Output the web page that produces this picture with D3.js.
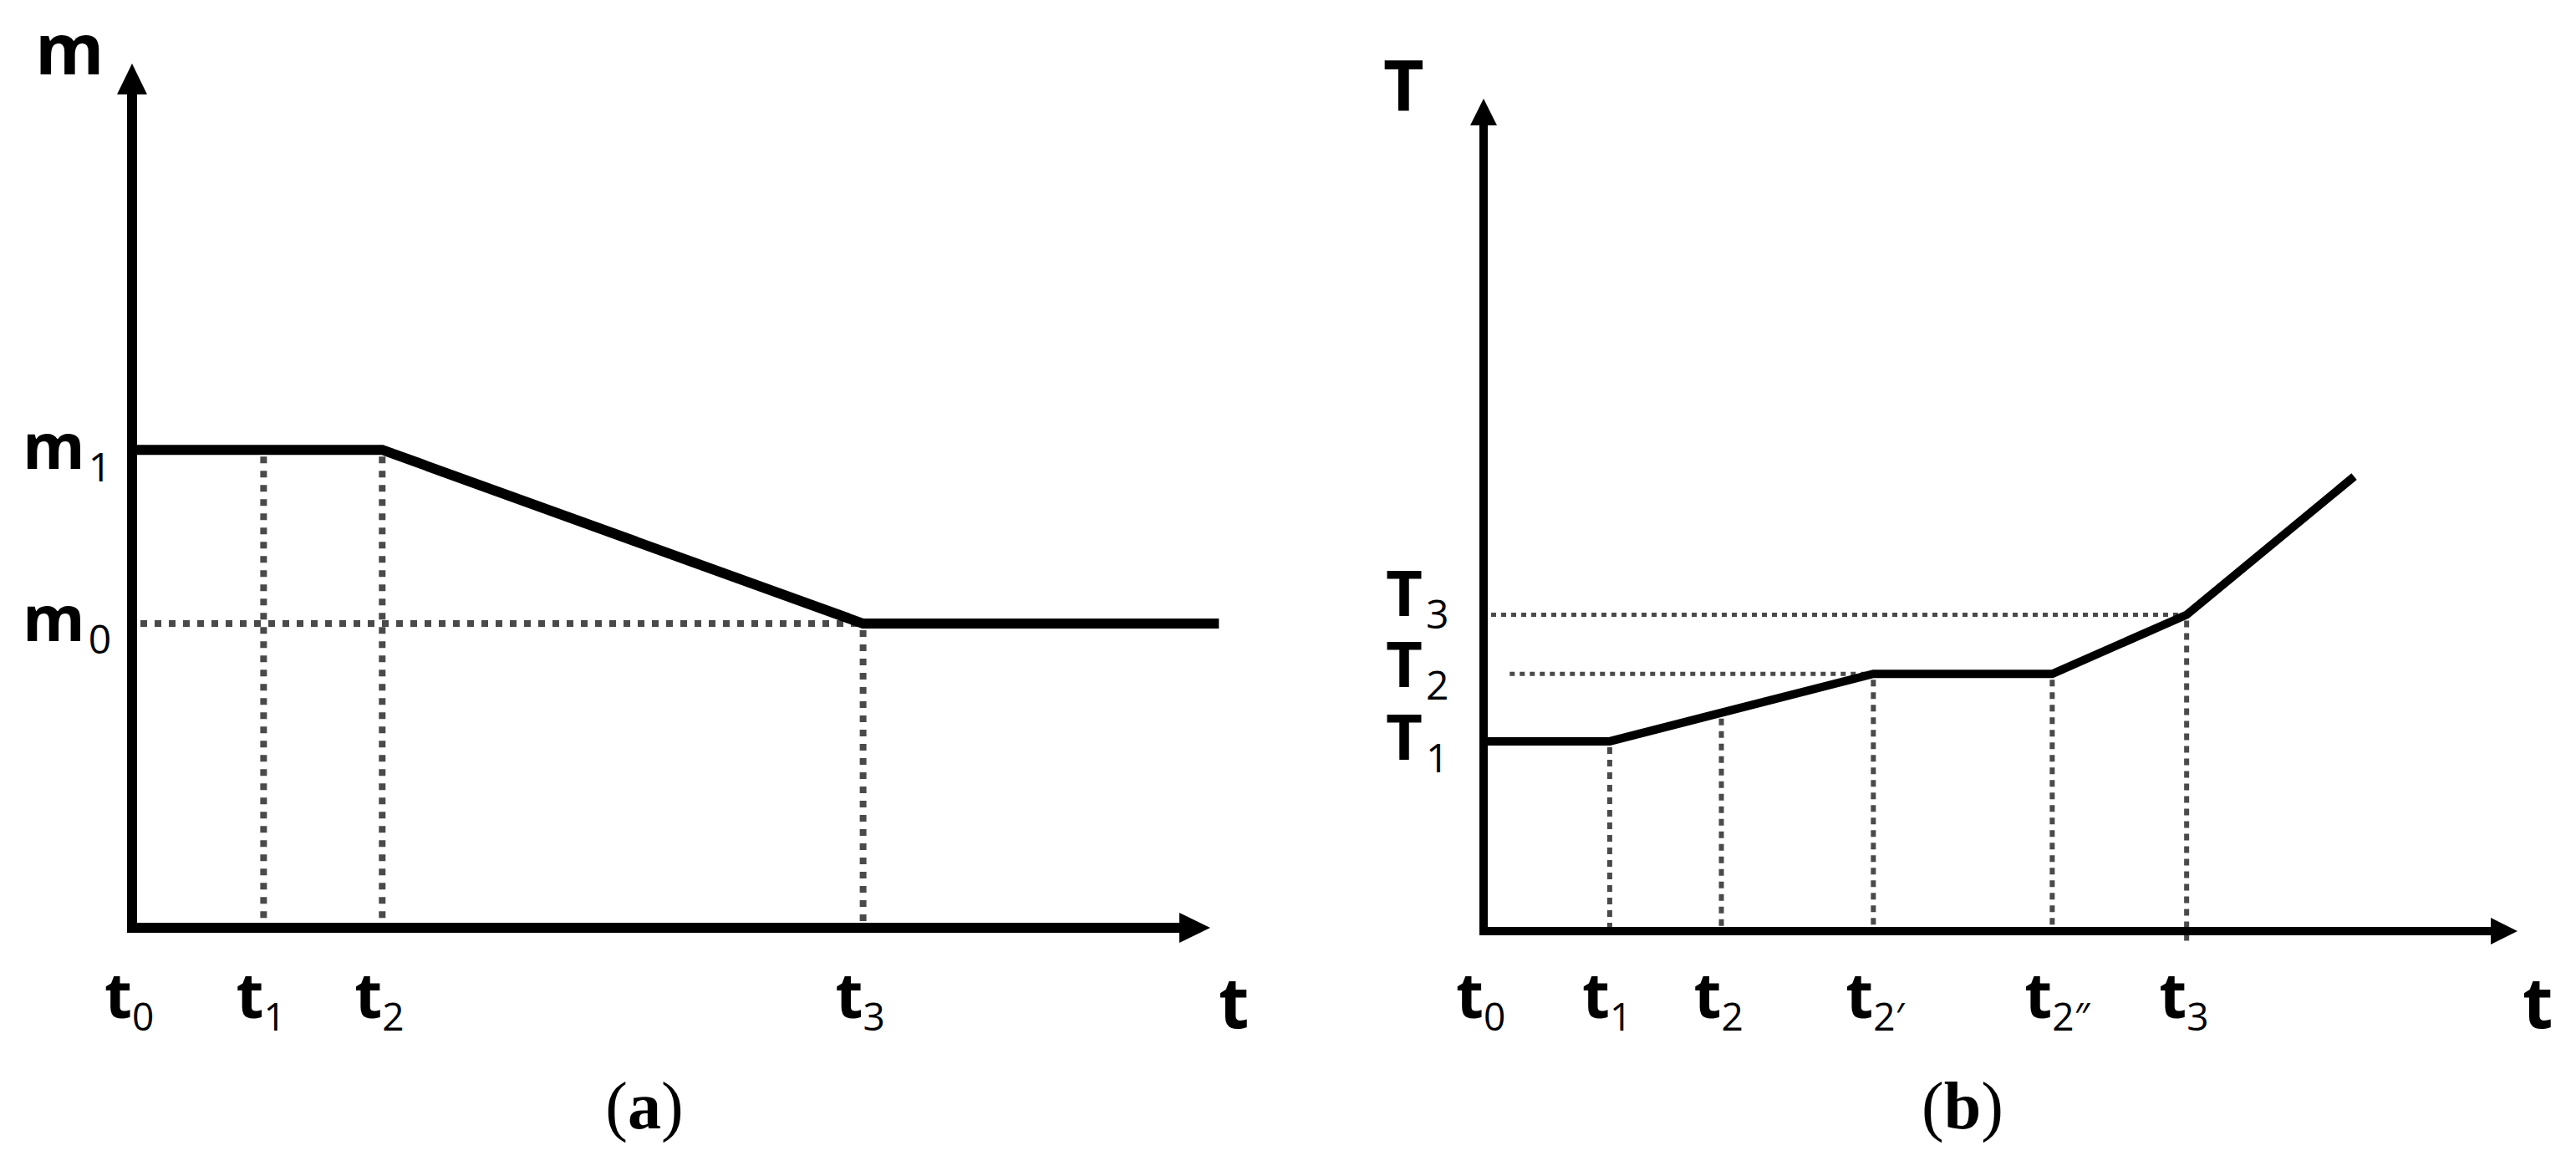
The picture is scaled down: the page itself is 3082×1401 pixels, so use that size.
<!DOCTYPE html>
<html>
<head>
<meta charset="utf-8">
<script src="https://cdn.jsdelivr.net/npm/d3@7"></script>
<style>
  body { margin: 0; background: #fff; }
  text { font-family: "Open Sans", "Noto Sans", sans-serif; fill: #000; }
  .cap { font-family: "Liberation Serif", "Times New Roman", serif; }
</style>
</head>
<body>
<svg width="3082" height="1401"></svg>
<script>
// panel (a): mass vs time, both axes on a 0..100 scale
var aTicks = [0, 12.2, 23.2, 67.8];
var aTickSubs = ['0', '1', '2', '3'];
var aLineTime = [0, 23.2, 67.8, 100.8];
var aLineMass = [55.3, 55.3, 35.2, 35.2];
var aLevels = [55.3, 35.2];
var aLevelSubs = ['1', '0'];
var aGuideLevel = [35.2];
var aGuideFrom = [0];
var aGuideTo = [67.8];

// panel (b): temperature vs time
var bTicks = [0, 12.2, 23.0, 37.7, 55.0, 68.0];
var bTickSubs = ['0', '1', '2', '2\u2032', '2\u2033', '3'];
var bLineTime = [0, 12.2, 37.7, 55.0, 68.0, 84.2];
var bLineTemp = [22.8, 22.8, 30.9, 30.9, 38.0, 54.6];
var bLevels = [22.8, 30.9, 38.0];
var bLevelSubs = ['1', '2', '3'];
var bGuideLevel = [30.9, 38.0];
var bGuideFrom = [1.8, 0];
var bGuideTo = [37.7, 68.0];

var svg = d3.select('svg');

drawPanel({
  left: 158, right: 1448, bottom: 1110, top: 76,
  lw: 12, ahLen: 37, ahHalf: 18, dotW: 8, dash: '8 9',
  ticks: aTicks, tickSubs: aTickSubs,
  lineX: aLineTime, lineY: aLineMass,
  levels: aLevels, levelSubs: aLevelSubs, levelLetter: 'm', levelX: 27, levelNudge: [23, 21],
  guideLevel: aGuideLevel, guideFrom: aGuideFrom, guideTo: aGuideTo, guideDash: '8 9', guideW: 8,
  yTitle: 'm', yTitleX: 42, yTitleY: 89,
  tTitleX: 1458, dropBelow: -1,
  caption: 'a', capX: 771
});

drawPanel({
  left: 1775, right: 3012, bottom: 1114, top: 118,
  lw: 10, ahLen: 32, ahHalf: 16, dotW: 6, dash: '8 7',
  ticks: bTicks, tickSubs: bTickSubs,
  lineX: bLineTime, lineY: bLineTemp,
  levels: bLevels, levelSubs: bLevelSubs, levelLetter: 'T', levelX: 1658, levelNudge: [22, 16, 1],
  guideLevel: bGuideLevel, guideFrom: bGuideFrom, guideTo: bGuideTo, guideDash: '6 6', guideW: 5,
  yTitle: 'T', yTitleX: 1655, yTitleY: 133,
  tTitleX: 3018, dropBelow: 4,
  caption: 'b', capX: 2348
});

function drawPanel(p){
  var g = svg.append('g');
  var x = d3.scaleLinear().domain([0, 100]).range([p.left, p.right]);
  var y = d3.scaleLinear().domain([0, 100]).range([p.bottom, p.top]);
  // height of the curve at any time, used for the drop lines
  var along = d3.scaleLinear().domain(p.lineX).range(p.lineY);

  // vertical dotted drop lines
  g.selectAll('.drop').data(p.ticks.slice(1)).enter()
    .append('line')
      .attr('class', 'drop')
      .attr('x1', function(d){ return x(d); })
      .attr('x2', function(d){ return x(d); })
      .attr('y1', function(d){ return y(along(d)) + p.lw / 2 + 2; })
      .attr('y2', function(d, i){ return i === p.dropBelow ? y(0) + 18 : y(0) - p.lw / 2; })
      .attr('stroke', '#4a4a4a')
      .attr('stroke-width', p.dotW)
      .attr('stroke-dasharray', p.dash);

  // horizontal dotted guides
  g.selectAll('.guide').data(p.guideLevel).enter()
    .append('line')
      .attr('class', 'guide')
      .attr('x1', function(d, i){ return x(p.guideFrom[i]) + p.lw / 2 + 4; })
      .attr('x2', function(d, i){ return x(p.guideTo[i]); })
      .attr('y1', function(d){ return y(d); })
      .attr('y2', function(d){ return y(d); })
      .attr('stroke', '#4a4a4a')
      .attr('stroke-width', p.guideW)
      .attr('stroke-dasharray', p.guideDash);

  // axes with arrow heads
  g.append('line')
    .attr('x1', x(0)).attr('x2', x(0))
    .attr('y1', y(0) + p.lw / 2).attr('y2', y(100) + p.ahLen - 2)
    .attr('stroke', '#000').attr('stroke-width', p.lw);
  g.append('line')
    .attr('x1', x(0) - p.lw / 2).attr('x2', x(100) - p.ahLen + 2)
    .attr('y1', y(0)).attr('y2', y(0))
    .attr('stroke', '#000').attr('stroke-width', p.lw);
  g.append('path')
    .attr('d', 'M' + x(0) + ',' + y(100) + 'L' + (x(0) + p.ahHalf) + ',' + (y(100) + p.ahLen) +
               'L' + (x(0) - p.ahHalf) + ',' + (y(100) + p.ahLen) + 'Z')
    .attr('fill', '#000');
  g.append('path')
    .attr('d', 'M' + x(100) + ',' + y(0) + 'L' + (x(100) - p.ahLen) + ',' + (y(0) - p.ahHalf) +
               'L' + (x(100) - p.ahLen) + ',' + (y(0) + p.ahHalf) + 'Z')
    .attr('fill', '#000');

  // the curve
  var line = d3.line()
    .x(function(d){ return x(d[0]); })
    .y(function(d){ return y(d[1]); });
  g.append('path')
    .datum(d3.zip(p.lineX, p.lineY))
    .attr('d', line)
    .attr('fill', 'none')
    .attr('stroke', '#000')
    .attr('stroke-width', p.lw)
    .attr('stroke-linejoin', 'miter');

  // tick labels t0, t1 ...
  var tl = g.selectAll('.tlab').data(p.ticks).enter()
    .append('text')
      .attr('class', 'tlab')
      .attr('x', function(d){ return x(d) - 33; })
      .attr('y', 1218)
      .style('font-size', '76px')
      .style('font-weight', 700)
      .text('t');
  tl.append('tspan')
    .attr('dy', 15)
    .style('font-size', '46px')
    .style('font-weight', 400)
    .text(function(d, i){ return p.tickSubs[i]; });

  // level labels m1, m0 / T1, T2, T3
  var ll = g.selectAll('.llab').data(p.levels).enter()
    .append('text')
      .attr('class', 'llab')
      .attr('x', p.levelX)
      .attr('y', function(d, i){ return y(d) + p.levelNudge[i]; })
      .style('font-size', '76px')
      .style('font-weight', 700)
      .text(p.levelLetter);
  ll.append('tspan')
    .attr('dx', 4)
    .attr('dy', 15)
    .style('font-size', '48px')
    .style('font-weight', 400)
    .text(function(d, i){ return p.levelSubs[i]; });

  // axis titles
  g.append('text')
    .attr('x', p.yTitleX).attr('y', p.yTitleY)
    .style('font-size', '84px').style('font-weight', 700)
    .text(p.yTitle);
  g.append('text')
    .attr('x', p.tTitleX).attr('y', 1230)
    .style('font-size', '84px').style('font-weight', 700)
    .text('t');

  // caption (a) / (b)
  var cap = g.append('text')
    .attr('class', 'cap')
    .attr('x', p.capX).attr('y', 1350)
    .attr('text-anchor', 'middle')
    .style('font-size', '80px');
  cap.append('tspan').text('(');
  cap.append('tspan').style('font-weight', 700).text(p.caption);
  cap.append('tspan').text(')');
}
</script>
</body>
</html>
